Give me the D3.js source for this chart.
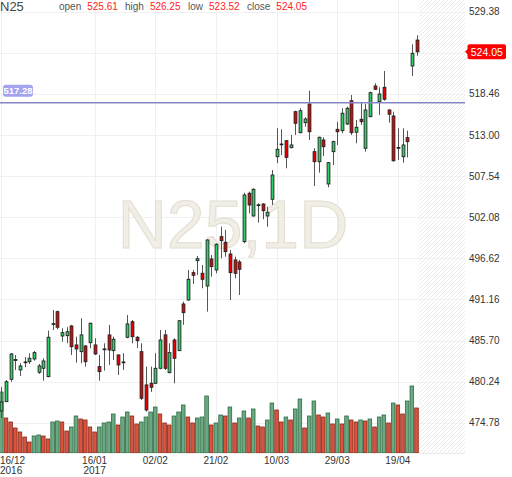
<!DOCTYPE html>
<html><head><meta charset="utf-8">
<script src="https://cdn.jsdelivr.net/npm/d3@7"></script>
<style>body{margin:0;background:#fff}svg{display:block;font-family:"Liberation Sans",Arial,sans-serif}</style>
</head><body>
<svg id="c" width="512" height="477"></svg>
<script>
const symbol = "N25", period = "1D";
const startDate = "2016-12-16";
const holidays = ["2016-12-26","2017-04-14","2017-04-17"];
const open = [476.35,477.59,480.56,483.06,481.80,482.80,482.90,483.26,481.49,482.02,
480.91,487.84,489.54,486.31,486.35,487.64,485.12,484.23,484.98,485.42,
485.12,482.24,484.59,486.45,484.36,483.79,482.86,486.14,488.21,486.14,
484.23,479.81,480.03,480.03,482.02,486.45,481.44,485.78,484.36,490.56,
491.09,494.72,496.31,494.64,492.95,496.54,495.08,499.50,498.76,497.20,
496.41,496.14,498.84,505.27,502.25,503.68,503.84,502.25,504.47,510.12,
511.73,512.25,511.32,516.10,513.31,514.64,517.12,510.79,509.46,512.34,
506.50,510.79,513.76,513.58,514.47,517.56,513.37,515.09,511.24,515.44,
519.51,517.43,519.34,516.33,515.53,511.35,510.12,512.65,522.17,525.61];
const high = [479.54,480.47,484.06,483.79,482.69,483.52,484.02,484.32,482.59,483.35,
487.02,489.77,489.67,487.34,487.47,487.78,486.22,488.66,485.12,488.08,
486.01,483.79,485.34,487.78,486.22,483.85,484.02,489.10,488.44,486.31,
485.34,482.24,482.24,484.02,487.11,487.11,485.34,486.01,488.44,490.87,
495.08,495.08,496.94,495.74,499.15,497.07,498.62,500.83,500.39,497.73,
496.84,496.41,505.34,505.48,505.93,503.94,503.94,503.48,508.36,513.90,
513.76,512.34,513.01,516.23,516.55,515.36,518.89,511.24,512.78,512.70,
509.40,512.25,514.77,516.55,516.76,518.32,515.00,517.30,517.12,518.76,
519.87,519.34,521.51,516.42,516.10,513.90,513.90,513.58,525.05,526.25];
const low = [475.42,477.55,480.24,481.80,481.00,482.16,482.59,483.03,481.27,480.38,
480.83,487.11,487.20,485.56,485.34,483.79,482.77,482.69,482.24,484.68,
483.79,480.38,481.71,482.46,483.13,481.13,481.80,486.01,485.34,484.72,
477.81,476.26,478.88,479.94,481.89,481.80,481.36,480.03,484.32,487.78,
491.00,493.22,494.42,492.65,489.54,494.19,494.64,496.63,496.84,491.09,
493.97,491.76,498.62,502.61,502.16,501.36,501.81,500.83,503.71,509.25,
510.35,508.58,511.24,513.01,513.23,514.11,512.34,506.23,508.00,510.22,
506.06,509.02,511.68,513.23,514.33,513.01,511.90,514.33,510.79,515.36,
518.98,515.66,517.56,514.64,509.46,509.69,509.33,510.04,520.84,523.52];
const close = [477.55,480.24,483.92,483.19,482.33,482.86,483.35,484.10,482.33,482.99,
486.14,487.95,487.47,486.75,486.88,484.89,484.59,486.45,482.90,488.00,
483.92,481.57,484.51,484.45,485.88,482.46,482.78,487.91,486.22,485.69,
478.04,476.48,479.50,482.02,485.78,482.02,484.10,483.35,488.34,489.41,
493.84,494.37,496.58,493.84,499.06,495.52,498.49,498.97,497.51,494.72,
494.64,495.17,505.04,503.71,505.79,503.74,502.95,502.74,507.69,511.11,
511.81,510.04,511.68,514.56,516.23,515.13,513.44,509.46,512.70,511.45,
509.33,512.12,513.44,515.89,516.55,513.31,514.03,514.77,516.33,518.62,
519.07,518.45,517.75,515.76,509.59,511.29,511.68,512.12,523.86,524.05];
const volume = [61,35,31,25,21,16,11,17,18,17,
14,31,32,31,22,26,37,34,33,26,
21,26,30,31,39,28,36,41,37,29,
31,36,41,46,39,30,28,37,41,48,
36,30,35,36,57,28,30,38,37,46,
30,35,42,35,44,27,26,33,50,43,
31,36,33,44,54,25,37,52,38,36,
40,29,34,29,37,33,31,33,32,34,
26,36,38,30,50,48,39,52,67,45];
const yTicks = [529.38,523.92,518.46,513.00,507.54,502.08,496.62,491.16,485.70,480.24,474.78];
const xTickDates = ["2016-12-16","2017-01-16","2017-02-02","2017-02-21","2017-03-10","2017-03-29","2017-04-19"];
const hLineLevel = 517.28;

// trading-day calendar (weekdays minus exchange holidays)
const parse = d3.utcParse("%Y-%m-%d"), fmtKey = d3.utcFormat("%Y-%m-%d");
const dates = [];
for (let d = parse(startDate); dates.length < close.length; d = d3.utcDay.offset(d, 1)) {
  const wd = d.getUTCDay();
  if (wd === 0 || wd === 6 || holidays.includes(fmtKey(d))) continue;
  dates.push(new Date(d));
}
const data = dates.map((d, i) => ({d, i, o: open[i], h: high[i], l: low[i], c: close[i], v: volume[i]}));

const svg = d3.select("#c");
const plotR = 465, plotB = 453;
const x = d3.scaleLinear().domain([0, close.length - 1]).range([1.3, 416.5]);
const y = d3.scaleLinear().domain([474.78, 529.38]).range([422.8, 11.7]);
const yv = d3.scaleLinear().domain([0, 100]).range([plotB, plotB - 100]);

// hatch pattern
const defs = svg.append("defs");
const pat = defs.append("pattern").attr("id", "hatch").attr("patternUnits", "userSpaceOnUse")
  .attr("width", 4).attr("height", 4);
pat.append("path").attr("d", "M-1,1 l2,-2 M0,4 l4,-4 M3,5 l2,-2").attr("stroke", "#e4e4e4").attr("stroke-width", 0.8);
defs.append("clipPath").attr("id", "clip").append("rect").attr("x", 0).attr("y", 0).attr("width", plotR).attr("height", plotB);

// future area
svg.append("rect").attr("x", x(close.length - 0.5)).attr("y", 0)
  .attr("width", plotR - x(close.length - 0.5)).attr("height", plotB).attr("fill", "url(#hatch)");

// grid
const xTickIdx = xTickDates.map(s => data.findIndex(r => fmtKey(r.d) === s));
svg.append("g").selectAll("line").data(yTicks).join("line")
  .attr("x1", 0).attr("x2", plotR).attr("y1", d => Math.round(y(d)) + 0.5).attr("y2", d => Math.round(y(d)) + 0.5)
  .attr("stroke", "#f0f0f0");
svg.append("g").selectAll("line").data(xTickIdx).join("line")
  .attr("x1", d => Math.round(x(d)) + 0.5).attr("x2", d => Math.round(x(d)) + 0.5).attr("y1", 0).attr("y2", plotB)
  .attr("stroke", "#f0f0f0");
svg.append("line").attr("x1", 0).attr("x2", plotR).attr("y1", plotB + 0.5).attr("y2", plotB + 0.5).attr("stroke", "#ececec");

// watermark
svg.append("text").attr("x", 233).attr("y", 248).attr("text-anchor", "middle")
  .attr("font-size", 68).attr("fill", "#f1eee6").attr("stroke", "#e3ded0").attr("stroke-width", 1)
  .text(symbol + "," + period);

const g = svg.append("g").attr("clip-path", "url(#clip)");

// volume bars (colour by change vs previous volume)
g.append("g").selectAll("rect").data(data).join("rect")
  .attr("x", d => x(d.i) - 1.8).attr("width", 3.6)
  .attr("y", d => yv(d.v)).attr("height", d => yv(0) - yv(d.v))
  .attr("fill", d => (d.i === 0 || d.v >= volume[d.i - 1]) ? "#6aa982" : "#d9533c")
  .attr("stroke", d => (d.i === 0 || d.v >= volume[d.i - 1]) ? "#2f6a44" : "#862a1b")
  .attr("stroke-width", 0.8);

// horizontal level line
svg.append("line").attr("x1", 0).attr("x2", plotR).attr("y1", y(hLineLevel)).attr("y2", y(hLineLevel))
  .attr("stroke", "#8585c8").attr("stroke-width", 1.5);

// candles
const cg = g.append("g");
cg.selectAll("line").data(data).join("line")
  .attr("x1", d => Math.round(x(d.i)) + 0.5).attr("x2", d => Math.round(x(d.i)) + 0.5)
  .attr("y1", d => y(d.h)).attr("y2", d => y(d.l))
  .attr("stroke", "#555").attr("stroke-width", 1);
cg.selectAll("rect").data(data).join("rect")
  .attr("x", d => Math.round(x(d.i)) + 0.5 - 1.4).attr("width", 2.8)
  .attr("y", d => y(Math.max(d.o, d.c)))
  .attr("height", d => Math.max(0.8, Math.abs(y(d.o) - y(d.c))))
  .attr("fill", d => d.c >= d.o ? "#2fd068" : "#e40000")
  .attr("stroke", "#222").attr("stroke-width", 0.9);

const last = data[data.length - 1];
const ly = y(last.c);

// y axis labels (those hidden behind the last-price label are not drawn)
svg.append("g").selectAll("text").data(yTicks.filter(t => Math.abs(y(t) - ly) > 9)).join("text")
  .attr("x", 469).attr("y", d => y(d) + 3.5).attr("font-size", 10).attr("fill", "#333")
  .text(d3.format(".2f"));

// x axis labels
const fmtDM = d3.utcFormat("%d/%m"), fmtY = d3.utcFormat("%Y");
const xl = svg.append("g");
xTickIdx.forEach((idx, k) => {
  const d = dates[idx];
  const first = k === 0;
  const anchor = first ? "start" : "middle";
  const px = first ? 0 : x(idx);
  xl.append("text").attr("x", px).attr("y", 464).attr("text-anchor", anchor)
    .attr("font-size", 10).attr("fill", "#333").text(fmtDM(d));
  const newYear = first || fmtY(d) !== fmtY(dates[xTickIdx[k - 1]]);
  if (newYear) xl.append("text").attr("x", px).attr("y", 474).attr("text-anchor", anchor)
    .attr("font-size", 10).attr("fill", "#333").text(fmtY(d));
});

// level label
const lv = svg.append("g");
lv.append("rect").attr("x", 3).attr("y", y(hLineLevel) - 18).attr("width", 30).attr("height", 12)
  .attr("rx", 3).attr("fill", "#a3a3ee");
lv.append("text").attr("x", 18).attr("y", y(hLineLevel) - 8.5).attr("text-anchor", "middle")
  .attr("font-size", 9.5).attr("font-weight", "bold").attr("fill", "#fff").text(d3.format(".2f")(hLineLevel));

// last price label
const pl = svg.append("g");
pl.append("path").attr("d", `M465,${ly} L468,${ly - 3} L468,${ly + 3} Z`).attr("fill", "#f00");
pl.append("rect").attr("x", 467.5).attr("y", ly - 7.5).attr("width", 38.5).attr("height", 15).attr("rx", 2).attr("fill", "#f00");
pl.append("text").attr("x", 486.8).attr("y", ly + 3.8).attr("text-anchor", "middle")
  .attr("font-size", 10.5).attr("fill", "#fff").text(d3.format(".2f")(last.c));

// header
const hd = svg.append("g");
hd.append("text").attr("x", 0).attr("y", 11).attr("font-size", 13).attr("fill", "#444").text(symbol);
const items = [["open", last.o, 59], ["high", last.h, 125], ["low", last.l, 188], ["close", last.c, 247]];
items.forEach(([lab, val, px]) => {
  const t = hd.append("text").attr("x", px).attr("y", 10).attr("font-size", 10);
  t.append("tspan").attr("fill", "#555").text(lab);
  t.append("tspan").attr("fill", "#f22").attr("dx", 6).text(d3.format(".2f")(val));
});
</script>
</body></html>
